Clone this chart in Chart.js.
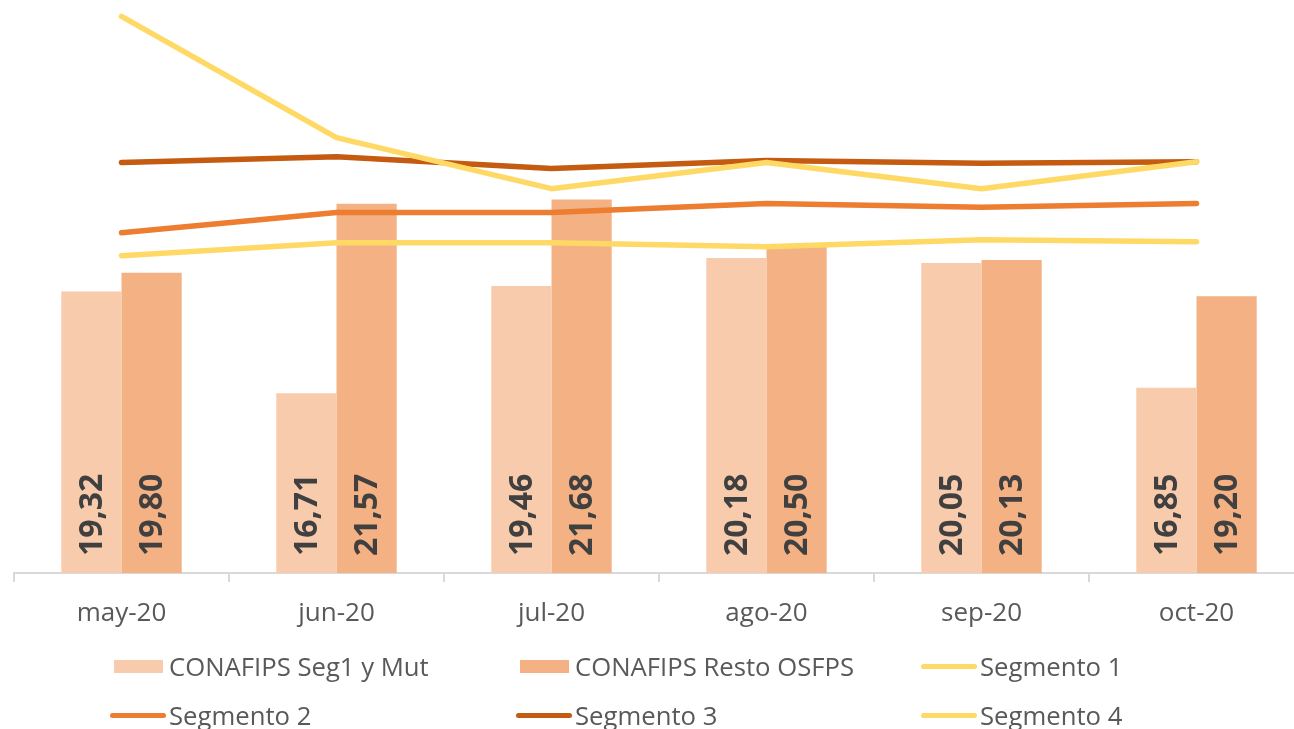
<!DOCTYPE html>
<html>
<head>
<meta charset="utf-8">
<script src="https://cdn.jsdelivr.net/npm/chart.js@4"></script>
<style>
  html, body { margin: 0; padding: 0; background: #fff; overflow: hidden; }
  body { width: 1294px; height: 729px; position: relative; }
  #wrap { position: absolute; left: 0; top: 0; width: 1310px; height: 650px; }
  #legend {
    position: absolute; left: 110px; top: 642px;
    display: grid; grid-template-columns: 406px 405px 405px;
    font-family: "Open Sans", sans-serif; font-size: 25.7px; color: #595959;
  }
  .item { display: flex; align-items: center; height: 49px; white-space: nowrap; }
  .sym { width: 56px; display: flex; justify-content: center; align-items: center; margin-right: 3px; }
  .box { width: 49px; height: 13px; }
  .line { width: 56px; height: 5px; border-radius: 3px; }
</style>
</head>
<body>
<div id="wrap"><canvas id="chart" width="1310" height="650"></canvas></div>
<div id="legend"></div>
<script>
const months = ["may-20", "jun-20", "jul-20", "ago-20", "sep-20", "oct-20"];
const conafipsSeg1 = [19.32, 16.71, 19.46, 20.18, 20.05, 16.85];
const conafipsResto = [19.80, 21.57, 21.68, 20.50, 20.13, 19.20];
const segmento1 = [26.38, 23.27, 21.96, 22.63, 21.96, 22.65];
const segmento2 = [20.83, 21.35, 21.35, 21.58, 21.48, 21.58];
const segmento3 = [22.63, 22.78, 22.48, 22.68, 22.61, 22.65];
const segmento4 = [20.24, 20.57, 20.57, 20.47, 20.65, 20.60];

const Config = {
  colors: {
    bar1: "#f8cbad",
    bar2: "#f4b183",
    seg1: "#ffd966",
    seg2: "#ed7d31",
    seg3: "#c55a11",
    seg4: "#ffd966",
    text: "#595959",
    label: "#404040",
    axis: "#d9d9d9",
  },
  font: `"Open Sans", sans-serif`,
};

const lineSet = (label, data, color, order) => ({
  type: "line",
  label,
  data,
  borderColor: color,
  backgroundColor: color,
  borderWidth: 5.5,
  borderCapStyle: "round",
  borderJoinStyle: "round",
  pointRadius: 0,
  tension: 0,
  order,
});

// vertical value labels at the foot of each bar
const barLabels = {
  id: "barLabels",
  afterDatasetsDraw(chart) {
    const c = chart.ctx;
    const base = chart.scales.y.bottom;
    c.save();
    c.font = `bold 32px ${Config.font}`;
    c.fillStyle = Config.colors.label;
    c.textAlign = "left";
    c.textBaseline = "middle";
    chart.data.datasets.forEach((ds, i) => {
      if (ds.type !== "bar") return;
      chart.getDatasetMeta(i).data.forEach((el, j) => {
        const txt = ds.data[j].toFixed(2).replace(".", ",");
        c.save();
        c.translate(el.x, base - 17);
        c.rotate(-Math.PI / 2);
        c.fillText(txt, 0, 1);
        c.restore();
      });
    });
    c.restore();
  },
};

const chart = new Chart(document.getElementById("chart"), {
  data: {
    labels: months,
    datasets: [
      { type: "bar", label: "CONAFIPS Seg1 y Mut", data: conafipsSeg1, backgroundColor: Config.colors.bar1, order: 10 },
      { type: "bar", label: "CONAFIPS Resto OSFPS", data: conafipsResto, backgroundColor: Config.colors.bar2, order: 10 },
      lineSet("Segmento 1", segmento1, Config.colors.seg1, 0),
      lineSet("Segmento 2", segmento2, Config.colors.seg2, 2),
      lineSet("Segmento 3", segmento3, Config.colors.seg3, 1),
      lineSet("Segmento 4", segmento4, Config.colors.seg4, 3),
    ],
  },
  options: {
    responsive: false,
    animation: false,
    devicePixelRatio: 1,
    layout: { padding: { left: 14, right: 6, top: 0, bottom: 0 } },
    datasets: {
      bar: { categoryPercentage: 0.56, barPercentage: 1.0 },
    },
    scales: {
      x: {
        offset: true,
        border: { display: true, color: Config.colors.axis, width: 2 },
        grid: {
          display: true,
          drawOnChartArea: false,
          drawTicks: true,
          tickLength: 9,
          color: Config.colors.axis,
          lineWidth: 2,
          offset: true,
        },
        ticks: {
          color: Config.colors.text,
          font: { family: Config.font, size: 26 },
          padding: 16,
          maxRotation: 0,
        },
        afterFit: (scale) => { scale.height = 650 - 573; },
      },
      y: {
        display: false,
        min: 12.1,
        max: 26.8,
      },
    },
    plugins: {
      legend: { display: false },
      tooltip: { enabled: false },
    },
  },
  plugins: [barLabels],
});

// legend laid out as a 3-column grid, like the original
const legend = document.getElementById("legend");
chart.data.datasets.forEach((ds) => {
  const item = document.createElement("div");
  item.className = "item";
  const sym = document.createElement("span");
  sym.className = "sym";
  const mark = document.createElement("span");
  mark.className = ds.type === "bar" ? "box" : "line";
  mark.style.background = ds.type === "bar" ? ds.backgroundColor : ds.borderColor;
  sym.appendChild(mark);
  const txt = document.createElement("span");
  txt.textContent = ds.label;
  item.appendChild(sym);
  item.appendChild(txt);
  legend.appendChild(item);
});
</script>
</body>
</html>
